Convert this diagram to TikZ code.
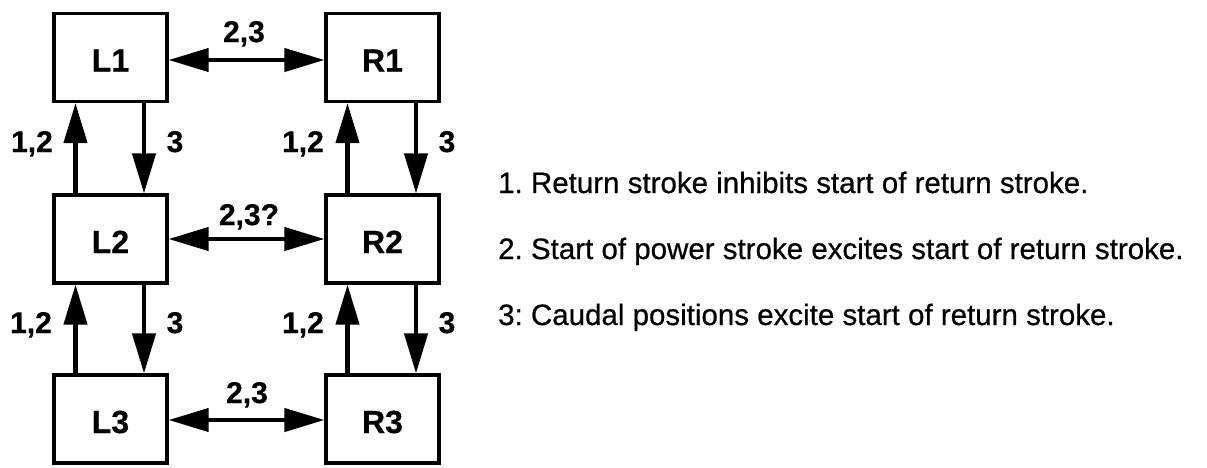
\documentclass[tikz,border=0pt]{standalone}
\usepackage{fontspec}
\setmainfont{Liberation Sans}
\newfontfamily\legendfont{Liberation Sans}[FakeBold=0.6]
\newfontfamily\labelfont{Liberation Sans Bold}[FakeBold=0.5]
\usetikzlibrary{arrows.meta}
\tikzset{
  cell/.style={draw, line width=3.2pt, minimum width=113pt, minimum height=88pt, inner sep=0pt,
    text height=28pt, text depth=0pt,
    font=\fontsize{32}{38}\labelfont},
  link/.style={line width=4.2pt, -{Triangle[length=40pt,width=23pt]}},
  dlink/.style={line width=4.2pt, {Triangle[length=40pt,width=23pt]}-{Triangle[length=40pt,width=23pt]}},
  elabel/.style={anchor=base, inner sep=0pt, font=\fontsize{30}{36}\labelfont},
  legend/.style={anchor=base west, inner sep=0pt, font=\fontsize{29.5}{36}\legendfont\frenchspacing}
}
\begin{document}
\begin{tikzpicture}[x=1pt,y=-1pt]
\useasboundingbox (0,0) rectangle (1207,467);
% boxes
\node[cell] (L1) at (110.5,57.5) {L1};
\node[cell] (R1) at (382.5,57.5) {R1};
\node[cell] (L2) at (110.5,239) {L2};
\node[cell] (R2) at (382.5,239) {R2};
\node[cell] (L3) at (110.5,419) {L3};
\node[cell] (R3) at (382.5,419) {R3};
% horizontal double arrows
\draw[dlink] ([yshift=-2.5pt]L1.east) -- ([yshift=-2.5pt]R1.west);
\draw[dlink] (L2.east) -- (R2.west);
\draw[dlink] ([yshift=-1pt]L3.east) -- ([yshift=-1pt]R3.west);
% vertical arrows
\draw[link] ([xshift=-35pt]L2.north) -- ([xshift=-35pt]L1.south);
\draw[link] ([xshift=33.5pt]L1.south) -- ([xshift=33.5pt]L2.north);
\draw[link] ([xshift=-35pt]R2.north) -- ([xshift=-35pt]R1.south);
\draw[link] ([xshift=33.5pt]R1.south) -- ([xshift=33.5pt]R2.north);
\draw[link] ([xshift=-35pt]L3.north) -- ([xshift=-35pt]L2.south);
\draw[link] ([xshift=33.5pt]L2.south) -- ([xshift=33.5pt]L3.north);
\draw[link] ([xshift=-35pt]R3.north) -- ([xshift=-35pt]R2.south);
\draw[link] ([xshift=33.5pt]R2.south) -- ([xshift=33.5pt]R3.north);
% edge labels
\node[elabel] (h1) at (244,42) {2,3};
\node[elabel] (h2) at (249,225) {2,3?};
\node[elabel] (h3) at (247,403) {2,3};
\node[elabel] (a1) at (32,152) {1,2};
\node[elabel] (a2) at (175,152) {3};
\node[elabel] (a3) at (303,152) {1,2};
\node[elabel] (a4) at (447,152) {3};
\node[elabel] (b1) at (31,333) {1,2};
\node[elabel] (b2) at (175,333) {3};
\node[elabel] (b3) at (303,333) {1,2};
\node[elabel] (b4) at (447,333) {3};
% legend
\node[legend] (t1) at (498,193) {1. Return stroke inhibits start of return stroke.};
\node[legend] (t2) at (498,259) {2. Start of power stroke excites start of return stroke.};
\node[legend] (t3) at (498,325) {3: Caudal positions excite start of return stroke.};
\end{tikzpicture}
\end{document}
